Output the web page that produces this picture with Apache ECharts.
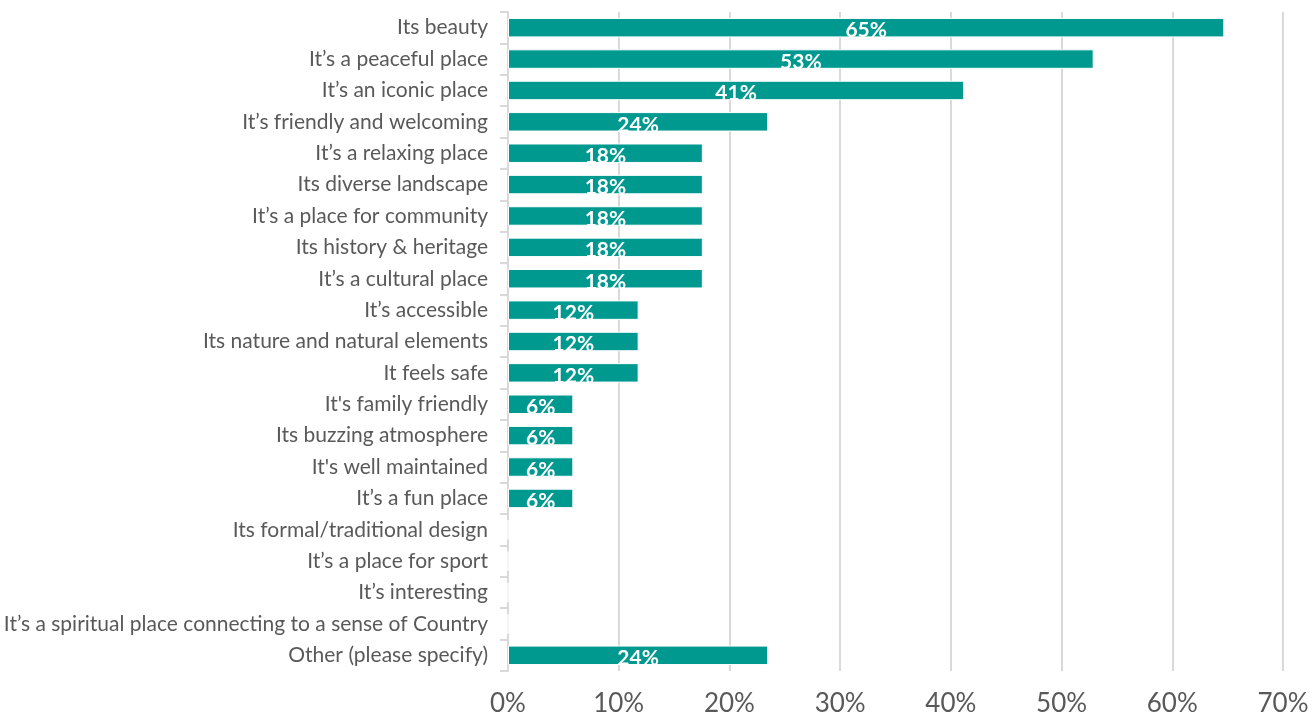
<!DOCTYPE html>
<html><head><meta charset="utf-8">
<script src="https://cdn.jsdelivr.net/npm/echarts@6/dist/echarts.min.js"></script>
<style>html,body{margin:0;padding:0;background:#fff}#c{width:1315px;height:717px}</style>
</head><body><div id="c"></div>
<script>
const categories = [
  "Its beauty",
  "It’s a peaceful place",
  "It’s an iconic place",
  "It’s friendly and welcoming",
  "It’s a relaxing place",
  "Its diverse landscape",
  "It’s a place for community",
  "Its history & heritage",
  "It’s a cultural place",
  "It’s accessible",
  "Its nature and natural elements",
  "It feels safe",
  "It's family friendly",
  "Its buzzing atmosphere",
  "It's well maintained",
  "It’s a fun place",
  "Its formal/traditional design",
  "It’s a place for sport",
  "It’s interesting",
  "It’s a spiritual place connecting to a sense of Country",
  "Other (please specify)"
];
const values = [64.7, 52.9, 41.2, 23.5, 17.6, 17.6, 17.6, 17.6, 17.6, 11.8, 11.8, 11.8, 5.9, 5.9, 5.9, 5.9, 0, 0, 0, 0, 23.5];
const xTicks = [0, 10, 20, 30, 40, 50, 60, 70];

const chart = echarts.init(document.getElementById('c'), null, {renderer: 'canvas'});
chart.setOption({
  animation: false,
  textStyle: {fontFamily: 'Lato'},
  grid: {left: 508, right: 32, top: 12, bottom: 45, containLabel: false},
  xAxis: {
    type: 'value', min: xTicks[0], max: xTicks[xTicks.length - 1], interval: 10,
    axisLine: {show: false}, axisTick: {show: false},
    splitLine: {show: true, lineStyle: {color: '#d9d9d9', width: 2}},
    axisLabel: {formatter: v => v + '%', color: '#595959', fontSize: 26, margin: 20, fontFamily: 'Lato'}
  },
  yAxis: {
    type: 'category', data: categories, inverse: true,
    axisLine: {show: true, lineStyle: {color: '#d9d9d9', width: 2}},
    axisTick: {show: true, length: 8, lineStyle: {color: '#d9d9d9', width: 2}},
    axisLabel: {color: '#595959', fontSize: 21, margin: 20, fontFamily: 'Lato'},
    splitLine: {show: false}
  },
  series: [{
    type: 'bar', data: values, barWidth: '62%',
    itemStyle: {color: '#009990', borderColor: '#ffffff', borderWidth: 1},
    label: {
      show: true, position: 'inside', offset: [0, 3],
      color: '#ffffff', fontWeight: 'bold', fontSize: 21, fontFamily: 'Lato',
      formatter: p => p.value > 0 ? Math.round(p.value) + '%' : ''
    }
  }]
});
</script></body></html>
